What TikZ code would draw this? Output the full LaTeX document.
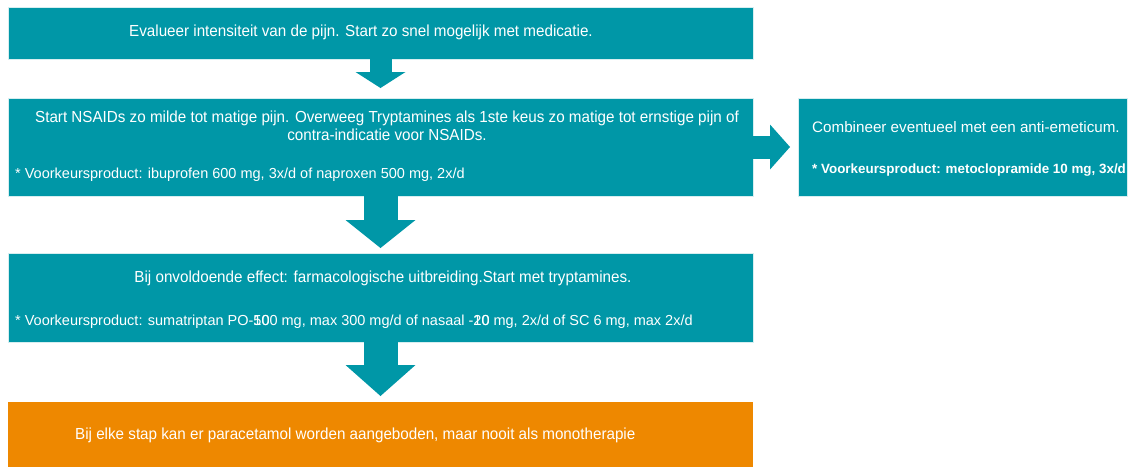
\documentclass[tikz,border=0pt]{standalone}
\usepackage{fontspec}
\setmainfont{Liberation Sans}
\newfontfamily\condensed[FakeStretch=0.95]{Liberation Sans}
\usetikzlibrary{arrows.meta}
\definecolor{stepteal}{HTML}{0097A7}
\definecolor{steporange}{HTML}{EE8800}
\definecolor{stepedge}{HTML}{D6EEF0}
\tikzset{
  box/.style={fill=stepteal, draw=stepedge, line width=0.8pt, inner sep=0pt, outer sep=0pt, anchor=north west},
  notebox/.style={box, fill=steporange, draw=none},
  headtext/.style={text=white, font=\condensed\fontsize{16}{18}\selectfont, inner sep=0pt, align=center},
  foottext/.style={text=white, font=\fontsize{14.5}{16}\selectfont, inner sep=0pt, anchor=west},
  flow/.style n args={3}{draw=stepteal, line width=#1pt,
    -{Triangle[width=#2pt, length=#3pt, line width=0pt]}},
}
\begin{document}
\begin{tikzpicture}[x=1pt, y=-1pt]
\useasboundingbox (0,0) rectangle (1135,467);

% step boxes
\node[box, minimum width=745pt, minimum height=52pt] (b1) at (8,7) {};
\node[box, minimum width=745pt, minimum height=98pt] (b2) at (8,98) {};
\node[box, minimum width=329pt, minimum height=98pt] (b3) at (798,98) {};
\node[box, minimum width=745pt, minimum height=89pt] (b4) at (8,253) {};
\node[notebox, minimum width=745pt, minimum height=65pt] (b5) at (8,402) {};

% texts
\node[headtext] (t1) at (361,32) {Evalueer intensiteit van de pijn. Start zo snel mogelijk met medicatie.};
\node[headtext] (t2) at (387,126) {Start NSAIDs zo milde tot matige pijn. Overweeg Tryptamines als 1ste keus zo matige tot ernstige pijn of\\contra-indicatie voor NSAIDs.};
\node[foottext] (f2) at (15,175) {* Voorkeursproduct: ibuprofen 600 mg, 3x/d of naproxen 500 mg, 2x/d};

\begin{scope}
  \clip (b3.north west) rectangle (b3.south east);
  \node[text=white, font=\fontsize{15.2}{17}\selectfont, inner sep=0pt, anchor=west] (t3) at (812,127) {Combineer eventueel met een anti-emeticum.};
  \node[text=white, font=\bfseries\fontsize{13.4}{15}\selectfont, inner sep=0pt, anchor=west] (f3) at (812,170) {* Voorkeursproduct: metoclopramide 10 mg, 3x/d};
\end{scope}

\node[headtext] (t4) at (383,278) {Bij onvoldoende effect: farmacologische uitbreiding.Start met tryptamines.};
\node[foottext] (f4) at (15,322) {* Voorkeursproduct: sumatriptan PO-\rlap{50}100 mg, max 300 mg/d of nasaal -\rlap{10}20 mg, 2x/d of SC 6 mg, max 2x/d};

\node[headtext, anchor=west] (t5) at (75,435) {Bij elke stap kan er paracetamol worden aangeboden, maar nooit als monotherapie};

% block arrows between steps
\draw[flow={22}{50}{16}, shorten >=10pt] (b1.south) -- (b2.north);
\draw[flow={23}{45}{20}, shorten >=8pt] (b2.east) -- (b3.west);
\draw[flow={34}{70}{28}, shorten >=5pt] (b2.south) -- (b4.north);
\draw[flow={34}{70}{31}, shorten >=6pt] (b4.south) -- (b5.north);
\end{tikzpicture}
\end{document}
